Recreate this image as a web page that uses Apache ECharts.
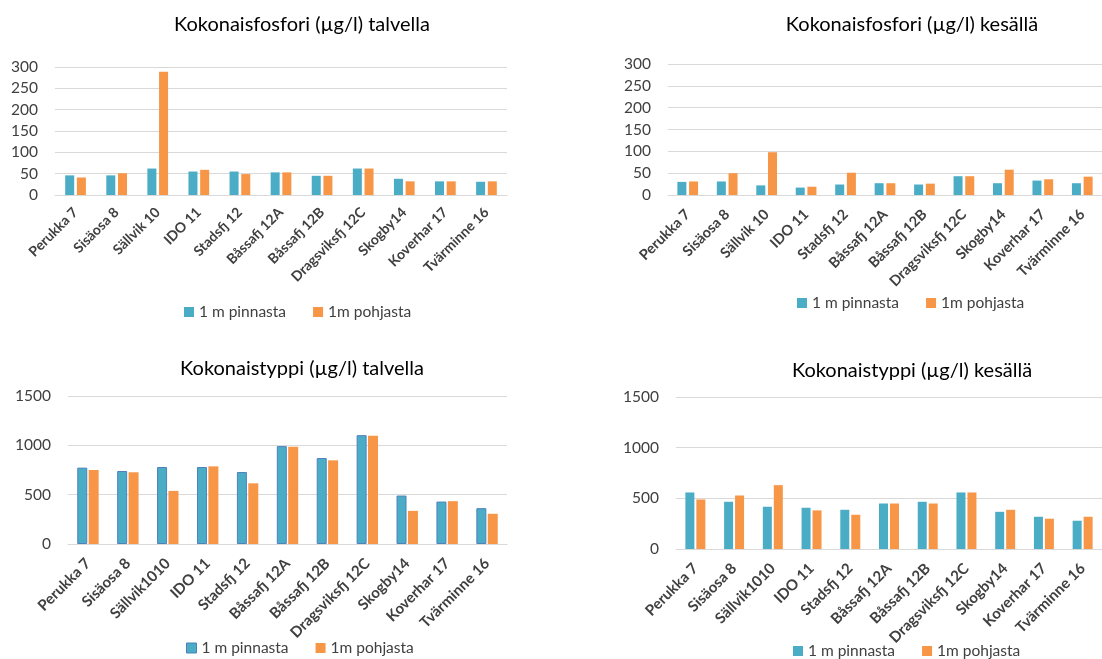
<!DOCTYPE html>
<html>
<head>
<meta charset="utf-8">
<script src="https://cdn.jsdelivr.net/npm/echarts@6/dist/echarts.min.js"></script>
<style>
  html, body { margin: 0; padding: 0; background: #fff; }
  #chart-container { width: 1102px; height: 659px; }
</style>
</head>
<body>
<div id="chart-container"></div>
<script>
// asemat
var stationsP = ['Perukka 7', 'Sisäosa 8', 'Sällvik 10', 'IDO 11', 'Stadsfj 12', 'Båssafj 12A',
    'Båssafj 12B', 'Dragsviksfj 12C', 'Skogby14', 'Koverhar 17', 'Tvärminne 16'];
var stationsN = ['Perukka 7', 'Sisäosa 8', 'Sällvik1010', 'IDO 11', 'Stadsfj 12', 'Båssafj 12A',
    'Båssafj 12B', 'Dragsviksfj 12C', 'Skogby14', 'Koverhar 17', 'Tvärminne 16'];

var seriesNames = ['1 m pinnasta', '1m pohjasta'];

// kokonaisfosfori talvella
var pWinterSurface = [46, 46, 62, 55, 55, 53, 45, 62, 38, 32, 31];
var pWinterBottom  = [41, 51, 289, 59, 49, 53, 45, 62, 32, 32, 32];
// kokonaisfosfori kesällä
var pSummerSurface = [30, 31, 22, 17, 24, 27, 24, 43, 27, 33, 27];
var pSummerBottom  = [31, 50, 98, 19, 51, 27, 26, 43, 58, 36, 42];
// kokonaistyppi talvella
var nWinterSurface = [774, 740, 780, 780, 730, 992, 871, 1103, 491, 430, 363];
var nWinterBottom  = [750, 727, 538, 787, 615, 985, 848, 1096, 336, 434, 306];
// kokonaistyppi kesällä
var nSummerSurface = [558, 466, 417, 407, 387, 449, 466, 558, 367, 318, 279];
var nSummerBottom  = [489, 528, 630, 381, 338, 449, 449, 558, 387, 299, 318];

var titles = ['Kokonaisfosfori (µg/l) talvella', 'Kokonaisfosfori (µg/l) kesällä',
    'Kokonaistyppi (µg/l) talvella', 'Kokonaistyppi (µg/l) kesällä'];

var BLUE = '#4bacc6';
var ORANGE = '#f79646';
var FONT = 'Lato';

var myChart = echarts.init(document.getElementById('chart-container'));

// paneelien paikat
var grids = [
    { left: 55, top: 67, width: 452, height: 128 },
    { left: 668, top: 64, width: 440, height: 131 },
    { left: 68, top: 396, width: 439, height: 148 },
    { left: 676, top: 397, width: 440, height: 152 }
];
var titlePos = [
    { left: 297, top: 10 }, { left: 907, top: 10 },
    { left: 297, top: 354 }, { left: 907, top: 356 }
];
var legendPos = [
    { left: 184, top: 304 }, { left: 797, top: 295 },
    { left: 186, top: 640 }, { left: 793, top: 643 }
];
var yMax = [300, 300, 1500, 1500];
var yInterval = [50, 50, 500, 500];
var cats = [stationsP, stationsP, stationsN, stationsN];
var labelSize = [14, 14.5, 15, 15];
var labelMargin = [15, 17, 17, 17];
var barW = [9, 9, 10, 9];
var gaps = ['30%', '30%', '14%', '22%'];
var data = [
    [pWinterSurface, pWinterBottom],
    [pSummerSurface, pSummerBottom],
    [nWinterSurface, nWinterBottom],
    [nSummerSurface, nSummerBottom]
];

var option = {
    animation: false,
    textStyle: { fontFamily: FONT },
    title: [], grid: [], xAxis: [], yAxis: [], legend: [], series: []
};

for (var i = 0; i < 4; i++) {
    option.title.push({
        text: titles[i],
        left: titlePos[i].left, top: titlePos[i].top,
        textAlign: 'center',
        textStyle: { fontFamily: FONT, fontSize: 20, fontWeight: 'normal', color: '#000' }
    });
    option.grid.push(grids[i]);
    option.xAxis.push({
        type: 'category', gridIndex: i, data: cats[i],
        axisLine: { lineStyle: { color: '#d9d9d9' } },
        axisTick: { show: false },
        axisLabel: {
            interval: 0, rotate: 45, margin: labelMargin[i],
            fontFamily: FONT, fontWeight: 'bold', fontSize: labelSize[i], color: '#404040'
        }
    });
    option.yAxis.push({
        type: 'value', gridIndex: i, min: 0, max: yMax[i], interval: yInterval[i],
        axisLine: { show: false }, axisTick: { show: false },
        splitLine: { lineStyle: { color: '#d9d9d9' } },
        axisLabel: {
            margin: 17, fontFamily: FONT, fontSize: 15.5, color: '#404040',
            formatter: function (v) { return String(v); }
        }
    });
    var blueStyle = { color: BLUE };
    if (i === 2) {
        blueStyle = { color: BLUE, borderColor: '#4f81bd', borderWidth: 1 };
    }
    option.legend.push({
        left: legendPos[i].left, top: legendPos[i].top,
        padding: 0,
        itemWidth: 10, itemHeight: 10, itemGap: 27,
        icon: 'rect',
        textStyle: { fontFamily: FONT, fontSize: 15.5, color: '#404040' },
        data: [
            { name: seriesNames[0], itemStyle: blueStyle },
            { name: seriesNames[1], itemStyle: { color: ORANGE } }
        ]
    });
    option.series.push({
        name: seriesNames[0], type: 'bar', xAxisIndex: i, yAxisIndex: i,
        data: data[i][0], barWidth: barW[i], barGap: gaps[i],
        itemStyle: blueStyle
    });
    option.series.push({
        name: seriesNames[1], type: 'bar', xAxisIndex: i, yAxisIndex: i,
        data: data[i][1], barWidth: barW[i], barGap: gaps[i],
        itemStyle: { color: ORANGE }
    });
}

myChart.setOption(option);
</script>
</body>
</html>
